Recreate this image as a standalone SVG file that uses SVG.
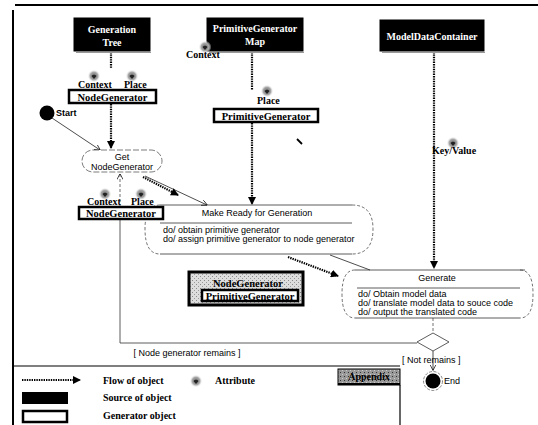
<svg xmlns="http://www.w3.org/2000/svg" xmlns:xlink="http://www.w3.org/1999/xlink" width="538" height="425" viewBox="0 0 538 425">
<style>
.src{fill:#000;stroke:#000;stroke-width:1}
.srct{font-family:"Liberation Serif",serif;font-weight:bold;font-size:10px;fill:#fff;text-anchor:middle}
.gen{fill:#fff;stroke:#000;stroke-width:2.5}
.gent{font-family:"Liberation Serif",serif;font-weight:bold;font-size:10.5px;fill:#000;text-anchor:middle}
.lbl{font-family:"Liberation Serif",serif;font-weight:bold;font-size:10px;fill:#000}
.act{font-family:"Liberation Sans",Arial,sans-serif;font-size:9px;fill:#000}
.flow{fill:none;stroke:#000;stroke-width:2.2;stroke-dasharray:1.4 1}
.thin{fill:none;stroke:#000;stroke-width:0.7}
.edge{fill:none;stroke:#333;stroke-width:0.8}
.dash{fill:none;stroke:#333;stroke-width:0.7;stroke-dasharray:3 2}
.frame{fill:none;stroke:#000;stroke-width:2}
</style>
<defs>
<marker id="fa" markerWidth="8" markerHeight="8" refX="7" refY="4" orient="auto" markerUnits="userSpaceOnUse" viewBox="0 0 8 8">
<path d="M0,0 L8,4 L0,8 Z" fill="#000"/>
</marker>
<marker id="oa" markerWidth="6" markerHeight="6" refX="5.5" refY="3" orient="auto" markerUnits="userSpaceOnUse" viewBox="0 0 6 6">
<path d="M0,0 L6,3 L0,6" fill="none" stroke="#000" stroke-width="0.7"/>
</marker>
<radialGradient id="blob">
<stop offset="0" stop-color="#666"/>
<stop offset="0.6" stop-color="#aaa"/>
<stop offset="1" stop-color="#fff" stop-opacity="0"/>
</radialGradient>
<pattern id="speck" width="4" height="4" patternUnits="userSpaceOnUse">
<rect width="4" height="4" fill="#ddd"/>
<rect x="0" y="0" width="1" height="1" fill="#888"/>
<rect x="2" y="2" width="1" height="1" fill="#999"/>
</pattern>
<pattern id="darkspeck" width="4" height="4" patternUnits="userSpaceOnUse">
<rect width="4" height="4" fill="#999"/>
<rect x="0" y="0" width="1" height="1" fill="#333"/>
<rect x="2" y="2" width="1" height="1" fill="#ccc"/>
</pattern>
<g id="attr">
<circle cx="0" cy="0" r="6.5" fill="url(#blob)"/>
<path d="M-2.5,0 Q0,-2.5 2.5,0 L0,3 Z" fill="#222"/>
</g>
</defs>

<rect width="538" height="425" fill="#fff"/>

<g id="frame">
<line class="frame" x1="15" y1="5" x2="538" y2="5"/>
<line class="frame" x1="13" y1="10" x2="13" y2="425"/>
</g>

<g id="connectors">
<line class="flow" x1="111" y1="52" x2="111" y2="68"/>
<line class="flow" x1="111" y1="104" x2="111" y2="148" marker-end="url(#fa)"/>
<line class="flow" x1="252" y1="52" x2="252" y2="90"/>
<line class="flow" x1="252" y1="123" x2="252" y2="204" marker-end="url(#fa)"/>
<line class="flow" x1="434" y1="52" x2="434" y2="268" marker-end="url(#fa)"/>
<line class="flow" x1="143" y1="177" x2="178" y2="195" marker-end="url(#fa)"/>
<line class="flow" x1="288" y1="257" x2="338" y2="276" marker-end="url(#fa)"/>
<line class="thin" x1="52" y1="118" x2="100" y2="150" marker-end="url(#oa)"/>
<line class="thin" x1="145" y1="176" x2="207" y2="205" marker-end="url(#oa)"/>
<line class="thin" x1="330" y1="255" x2="370" y2="270"/>
<line class="dash" x1="120" y1="207" x2="120" y2="174" marker-end="url(#oa)"/>
<polyline class="edge" points="120,219 120,343 417,343"/>
<line class="dash" x1="433" y1="318" x2="433" y2="333"/>
<line class="thin" x1="433" y1="351" x2="433" y2="370" marker-end="url(#oa)"/>
<line x1="297" y1="139" x2="302" y2="144" stroke="#000" stroke-width="1.8"/>
</g>

<g id="generation-tree">
<rect x="74" y="18" width="76" height="33" class="src"/>
<line x1="76" y1="52.5" x2="151" y2="52.5" stroke="#999" stroke-width="1"/>
<text class="srct" x="112" y="33" font-size="11.5">Generation</text>
<text class="srct" x="112" y="46" font-size="11.5">Tree</text>
</g>

<g id="primitive-generator-map">
<rect x="207" y="18" width="96" height="33" class="src"/>
<line x1="209" y1="52.5" x2="304" y2="52.5" stroke="#999" stroke-width="1"/>
<text class="srct" x="255" y="32" font-size="10.5">PrimitiveGenerator</text>
<text class="srct" x="255" y="45" font-size="10.5">Map</text>
</g>

<g id="model-data-container">
<rect x="380" y="20" width="104" height="31" class="src"/>
<line x1="382" y1="52.5" x2="485" y2="52.5" stroke="#999" stroke-width="1"/>
<text class="srct" x="432" y="40">ModelDataContainer</text>
</g>

<g id="context-label-map">
<use xlink:href="#attr" x="205" y="47"/>
<text class="lbl" x="186" y="58">Context</text>
</g>

<g id="node-generator-top">
<use xlink:href="#attr" x="94" y="76"/>
<use xlink:href="#attr" x="132" y="76"/>
<text class="lbl" x="78" y="88">Context</text>
<text class="lbl" x="124" y="88">Place</text>
<rect x="69" y="90" width="87" height="13" class="gen"/>
<text class="gent" x="112.5" y="100.5" font-size="11.5">NodeGenerator</text>
</g>

<g id="primitive-generator">
<use xlink:href="#attr" x="267" y="91"/>
<text class="lbl" x="257" y="104">Place</text>
<rect x="214" y="109" width="104" height="13" class="gen"/>
<text class="gent" x="266" y="119.5" font-size="11.5">PrimitiveGenerator</text>
</g>

<g id="start">
<circle cx="47" cy="113" r="7.5" fill="#000"/>
<text class="act" x="56" y="116" font-weight="bold" font-size="7">Start</text>
</g>

<g id="get-node-generator">
<rect x="82" y="150" width="80" height="22" rx="11" ry="11" fill="#fff" stroke="#444" stroke-width="0.7" stroke-dasharray="6 2"/>
<text class="act" x="122" y="160" text-anchor="middle">Get</text>
<text class="act" x="122" y="169.5" text-anchor="middle">NodeGenerator</text>
</g>

<g id="make-ready">
<path d="M160,205 Q145,205 145,229 Q145,254 160,254" class="dash"/>
<path d="M352,205 Q373,205 373,229 Q373,254 352,254" class="dash"/>
<line class="edge" x1="160" y1="205" x2="352" y2="205"/>
<line class="edge" x1="160" y1="223" x2="352" y2="223"/>
<line class="edge" x1="160" y1="254" x2="352" y2="254"/>
<text class="act" x="257" y="215.5" text-anchor="middle">Make Ready for Generation</text>
<text class="act" x="163" y="233">do/ obtain primitive generator</text>
<text class="act" x="163" y="242">do/ assign primitive generator to node generator</text>
</g>

<g id="node-generator-bottom">
<use xlink:href="#attr" x="105" y="194"/>
<use xlink:href="#attr" x="141" y="194"/>
<text class="lbl" x="87" y="205">Context</text>
<text class="lbl" x="131" y="205">Place</text>
<rect x="79" y="207" width="84" height="12" class="gen"/>
<text class="gent" x="121" y="216.5" font-size="11">NodeGenerator</text>
</g>

<g id="combined-object">
<rect x="189" y="272" width="114" height="33" fill="url(#speck)" stroke="#000" stroke-width="3"/>
<text class="gent" x="248" y="287">NodeGenerator</text>
<rect x="202" y="290" width="96" height="11" class="gen"/>
<text class="gent" x="250" y="299.5">PrimitiveGenerator</text>
</g>

<g id="key-value">
<use xlink:href="#attr" x="453" y="143"/>
<text class="lbl" x="432" y="154">Key/Value</text>
</g>

<g id="generate">
<path d="M355,270 Q342,270 342,294 Q342,318 355,318" class="dash"/>
<path d="M520,270 Q533,270 533,294 Q533,318 520,318" class="dash"/>
<line class="edge" x1="355" y1="270" x2="525" y2="270"/>
<line class="edge" x1="357" y1="288" x2="520" y2="288"/>
<line class="edge" x1="355" y1="318" x2="520" y2="318"/>
<text class="act" x="437" y="280.5" text-anchor="middle">Generate</text>
<text class="act" x="358" y="297" font-size="8.2">do/ Obtain model data</text>
<text class="act" x="358" y="306" font-size="8.2">do/ translate model data to souce code</text>
<text class="act" x="358" y="315" font-size="8.2">do/ output the translated code</text>
</g>

<g id="decision">
<polygon points="417,342 433,333 449,342 433,351" fill="#fff" stroke="#333" stroke-width="0.8"/>
</g>

<g id="guards">
<text class="act" x="187" y="356" text-anchor="middle" font-size="9.5">[ Node generator remains ]</text>
<text class="act" x="402" y="363" font-size="8.5">[ Not remains ]</text>
</g>

<g id="end">
<circle cx="433" cy="381" r="9.5" fill="none" stroke="#555" stroke-width="0.7" stroke-dasharray="3 1.5"/>
<circle cx="433" cy="381" r="7.5" fill="#000"/>
<text class="act" x="444" y="384">End</text>
</g>

<g id="legend">
<line x1="13" y1="366" x2="400" y2="366" stroke="#000" stroke-width="1.2"/>
<rect x="338" y="369" width="62" height="16" fill="url(#darkspeck)" stroke="#000" stroke-width="1"/>
<line x1="338" y1="384" x2="400" y2="384" stroke="#000" stroke-width="2"/>
<text class="lbl" x="369" y="380" text-anchor="middle" font-size="9">Appendix</text>
<line x1="400" y1="385" x2="400" y2="425" stroke="#000" stroke-width="1.2"/>
<line class="flow" x1="22" y1="380" x2="80" y2="380" marker-end="url(#fa)"/>
<text class="lbl" x="103" y="384">Flow of object</text>
<use xlink:href="#attr" x="196" y="381"/>
<text class="lbl" x="215" y="384">Attribute</text>
<rect x="22" y="392" width="46" height="12" fill="#000"/>
<text class="lbl" x="103" y="401">Source of object</text>
<rect x="23" y="411" width="44" height="11" fill="#fff" stroke="#000" stroke-width="2.5"/>
<text class="lbl" x="103" y="419">Generator object</text>
</g>
</svg>
